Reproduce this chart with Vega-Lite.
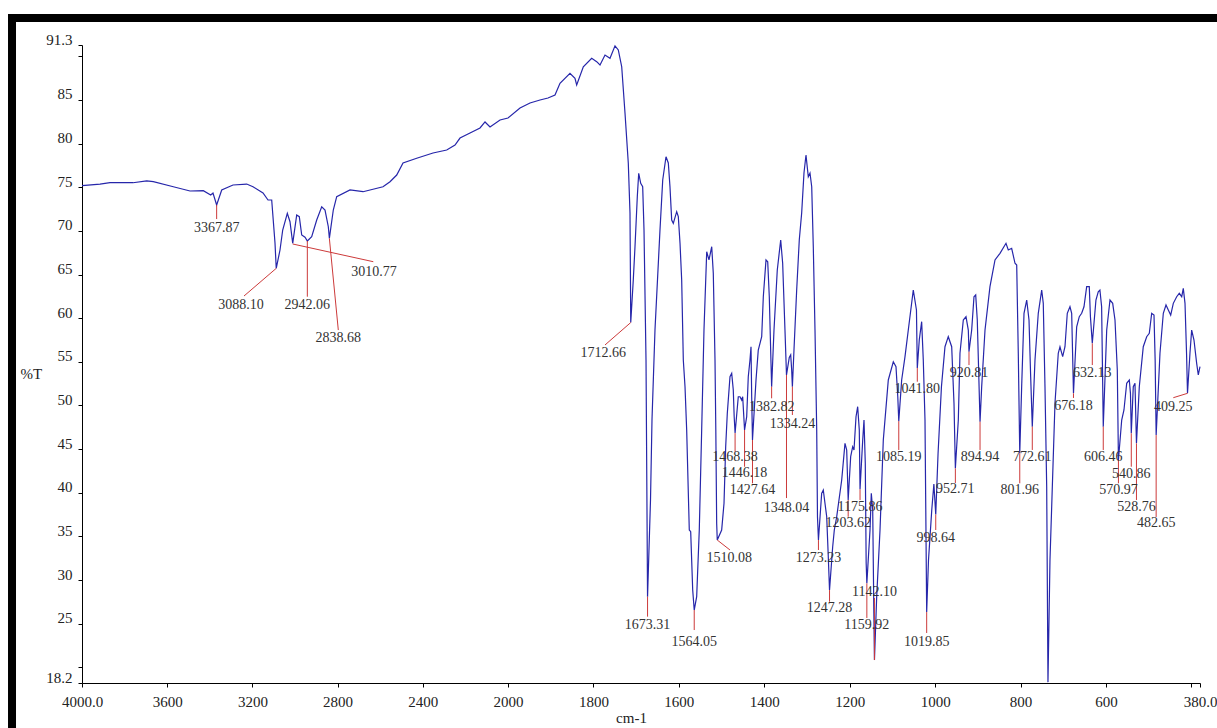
{
  "$schema": "https://vega.github.io/schema/vega-lite/v6.json",
  "width": 1118,
  "height": 638,
  "autosize": "none",
  "padding": {"left": 82, "top": 45, "right": 17, "bottom": 45},
  "background": "white",
  "config": {
    "view": {"stroke": null},
    "axis": {"grid": false, "domainColor": "#000", "tickColor": "#000", "tickSize": 4, "labelFont": "Liberation Serif", "labelFontSize": 15, "labelColor": "#222", "titleFont": "Liberation Serif", "titleFontSize": 15, "titleFontWeight": "normal", "titleColor": "#222", "labelOverlap": false, "labelFlush": false, "labelBound": false}
  },
  "datasets": {
    "frame": [
      {"fx": 4328.6, "fy": 94.39, "fx2": 4328.6, "fy2": 10.0},
      {"fx": 4328.6, "fy": 94.39, "fx2": 300, "fy2": 94.39}
    ],
    "spectrum": [
      {"wn":4000,"t":75.18},{"wn":3915.5,"t":75.37},{"wn":3868.5,"t":75.52},{"wn":3760.6,"t":75.52},{"wn":3696.2,"t":75.72},{"wn":3665.3,"t":75.64},{"wn":3571.3,"t":75.06},{"wn":3492.9,"t":74.57},{"wn":3430.5,"t":74.61},{"wn":3395.8,"t":74.11},{"wn":3385.0,"t":74.34},{"wn":3367.87,"t":72.97},{"wn":3344.1,"t":74.69},{"wn":3291.1,"t":75.26},{"wn":3226.8,"t":75.37},{"wn":3197.2,"t":75.06},{"wn":3150.2,"t":74.34},{"wn":3126.7,"t":73.54},{"wn":3109.4,"t":73.54},{"wn":3093.9,"t":68.61},{"wn":3088.1,"t":65.71},{"wn":3070.4,"t":67.81},{"wn":3057.7,"t":70.10},{"wn":3036.1,"t":72.02},{"wn":3023.5,"t":71.05},{"wn":3010.77,"t":68.58},{"wn":2992.0,"t":71.82},{"wn":2979.8,"t":71.63},{"wn":2968.5,"t":69.53},{"wn":2953.0,"t":69.27},{"wn":2942.06,"t":68.84},{"wn":2921.6,"t":69.34},{"wn":2898.1,"t":71.25},{"wn":2874.6,"t":72.77},{"wn":2859.1,"t":72.39},{"wn":2843.6,"t":70.48},{"wn":2838.68,"t":69.15},{"wn":2820.2,"t":72.39},{"wn":2804.2,"t":73.92},{"wn":2741.7,"t":74.69},{"wn":2680.7,"t":74.49},{"wn":2586.8,"t":75.06},{"wn":2553.9,"t":75.64},{"wn":2522.5,"t":76.40},{"wn":2492.9,"t":77.78},{"wn":2428.6,"t":78.32},{"wn":2352.1,"t":78.93},{"wn":2287.7,"t":79.27},{"wn":2248.8,"t":79.84},{"wn":2225.3,"t":80.64},{"wn":2178.3,"t":81.22},{"wn":2131.4,"t":81.79},{"wn":2107.9,"t":82.48},{"wn":2084.4,"t":81.9},{"wn":2037.5,"t":82.71},{"wn":2000,"t":82.94},{"wn":1971.9,"t":84.08},{"wn":1948.5,"t":84.65},{"wn":1925.1,"t":85.0},{"wn":1906.4,"t":85.23},{"wn":1890,"t":85.57},{"wn":1878.3,"t":86.91},{"wn":1854.9,"t":88.06},{"wn":1843.2,"t":87.48},{"wn":1839.2,"t":86.72},{"wn":1823.7,"t":88.81},{"wn":1804.1,"t":89.78},{"wn":1792.4,"t":89.39},{"wn":1784.6,"t":89.01},{"wn":1772.9,"t":90.15},{"wn":1761.2,"t":89.78},{"wn":1749.5,"t":91.2},{"wn":1741.8,"t":90.73},{"wn":1733.8,"t":88.81},{"wn":1726.1,"t":83.51},{"wn":1718.4,"t":77.78},{"wn":1714.4,"t":72.05},{"wn":1712.66,"t":59.5},{"wn":1706.7,"t":64.37},{"wn":1702.7,"t":68.19},{"wn":1697.3,"t":73.92},{"wn":1694.0,"t":76.60},{"wn":1689.3,"t":75.45},{"wn":1684.7,"t":75.06},{"wn":1681.6,"t":70.10},{"wn":1676.9,"t":55.21},{"wn":1673.31,"t":28.09},{"wn":1666.4,"t":39.17},{"wn":1662.9,"t":48.33},{"wn":1655.9,"t":58.64},{"wn":1644.2,"t":70.10},{"wn":1637.8,"t":75.83},{"wn":1630.1,"t":78.50},{"wn":1624.7,"t":77.78},{"wn":1620.8,"t":75.06},{"wn":1616.8,"t":71.25},{"wn":1613.0,"t":70.87},{"wn":1605.1,"t":72.20},{"wn":1601.3,"t":71.63},{"wn":1597.3,"t":68.58},{"wn":1593.4,"t":64.37},{"wn":1589.6,"t":55.21},{"wn":1585.6,"t":52.15},{"wn":1581.7,"t":47.19},{"wn":1575.6,"t":35.73},{"wn":1572.3,"t":35.54},{"wn":1567.6,"t":28.85},{"wn":1564.05,"t":26.56},{"wn":1558.3,"t":28.09},{"wn":1552.2,"t":35.73},{"wn":1546.6,"t":47.19},{"wn":1541.2,"t":58.64},{"wn":1534.8,"t":67.62},{"wn":1529.5,"t":66.67},{"wn":1523.1,"t":68.19},{"wn":1519.4,"t":65.14},{"wn":1515.4,"t":55.21},{"wn":1513.5,"t":47.19},{"wn":1511.5,"t":36.5},{"wn":1510.08,"t":34.58},{"wn":1499.8,"t":35.73},{"wn":1494.3,"t":38.79},{"wn":1490.4,"t":45.27},{"wn":1486.6,"t":49.10},{"wn":1480.3,"t":53.29},{"wn":1476.3,"t":53.68},{"wn":1472.6,"t":51.77},{"wn":1470.5,"t":48.71},{"wn":1468.38,"t":46.84},{"wn":1460.9,"t":51.0},{"wn":1456.9,"t":51.0},{"wn":1452.9,"t":50.62},{"wn":1450.6,"t":51.0},{"wn":1446.18,"t":47.19},{"wn":1441.2,"t":48.71},{"wn":1437.5,"t":53.29},{"wn":1433.5,"t":55.21},{"wn":1431.1,"t":56.73},{"wn":1429.5,"t":51.0},{"wn":1427.64,"t":46.04},{"wn":1419.4,"t":52.92},{"wn":1414.1,"t":56.35},{"wn":1406.1,"t":57.88},{"wn":1402.3,"t":62.46},{"wn":1396.0,"t":66.67},{"wn":1392.0,"t":66.47},{"wn":1388.3,"t":62.46},{"wn":1384.3,"t":54.86},{"wn":1382.82,"t":52.15},{"wn":1377.3,"t":58.64},{"wn":1369.6,"t":65.52},{"wn":1361.6,"t":68.96},{"wn":1357.0,"t":66.29},{"wn":1351.6,"t":58.64},{"wn":1348.04,"t":53.5},{"wn":1341.5,"t":55.5},{"wn":1338.2,"t":55.8},{"wn":1335.9,"t":54.06},{"wn":1334.24,"t":52.15},{"wn":1330.5,"t":56.35},{"wn":1324.2,"t":63.23},{"wn":1318.1,"t":68.96},{"wn":1312.5,"t":72.05},{"wn":1307.1,"t":76.63},{"wn":1302.4,"t":78.70},{"wn":1297.0,"t":76.21},{"wn":1293.0,"t":76.63},{"wn":1289.0,"t":75.06},{"wn":1285.3,"t":68.19},{"wn":1281.3,"t":58.64},{"wn":1277.3,"t":47.19},{"wn":1275.5,"t":37.25},{"wn":1273.23,"t":34.58},{"wn":1265.7,"t":39.93},{"wn":1261.9,"t":40.31},{"wn":1253.9,"t":37.25},{"wn":1250.2,"t":32.67},{"wn":1247.28,"t":28.85},{"wn":1239.9,"t":33.81},{"wn":1236.1,"t":35.73},{"wn":1230.5,"t":37.25},{"wn":1218.8,"t":41.46},{"wn":1211.1,"t":45.66},{"wn":1207.1,"t":44.90},{"wn":1203.62,"t":39.17},{"wn":1197.8,"t":44.13},{"wn":1193.1,"t":45.27},{"wn":1190.0,"t":44.90},{"wn":1185.3,"t":48.71},{"wn":1181.4,"t":49.86},{"wn":1177.6,"t":47.19},{"wn":1175.86,"t":40.4},{"wn":1169.6,"t":46.04},{"wn":1166.6,"t":48.33},{"wn":1163.6,"t":43.37},{"wn":1161.5,"t":31.91},{"wn":1159.92,"t":29.62},{"wn":1152.5,"t":35.73},{"wn":1149.5,"t":39.93},{"wn":1146.2,"t":38.02},{"wn":1143.5,"t":26.22},{"wn":1142.1,"t":20.83},{"wn":1136.9,"t":28.09},{"wn":1129.1,"t":35.73},{"wn":1121.4,"t":46.04},{"wn":1109.7,"t":52.92},{"wn":1098.0,"t":55.01},{"wn":1091.7,"t":54.44},{"wn":1087.5,"t":51.0},{"wn":1085.19,"t":48.2},{"wn":1078.4,"t":52.92},{"wn":1070.6,"t":55.59},{"wn":1062.9,"t":58.64},{"wn":1051.2,"t":63.23},{"wn":1043.8,"t":60.94},{"wn":1041.8,"t":54.3},{"wn":1037.2,"t":57.50},{"wn":1031.6,"t":59.60},{"wn":1027.8,"t":55.21},{"wn":1023.8,"t":48.33},{"wn":1019.85,"t":26.33},{"wn":1015.6,"t":32.29},{"wn":1008,"t":38},{"wn":1003,"t":41},{"wn":998.64,"t":37.5},{"wn":993.2,"t":44.52},{"wn":985.3,"t":52.15},{"wn":977.0,"t":56.73},{"wn":969.3,"t":57.88},{"wn":961.3,"t":56.73},{"wn":955.9,"t":50.25},{"wn":952.71,"t":42.8},{"wn":945.8,"t":48.33},{"wn":941.9,"t":55.98},{"wn":934.1,"t":59.79},{"wn":927.8,"t":60.17},{"wn":922.4,"t":58.64},{"wn":920.81,"t":56.16},{"wn":914.5,"t":58.64},{"wn":909.1,"t":62.46},{"wn":905.1,"t":62.66},{"wn":901.4,"t":59.79},{"wn":894.94,"t":48.14},{"wn":891.1,"t":52.15},{"wn":883.3,"t":58.64},{"wn":871.7,"t":63.61},{"wn":859.9,"t":66.67},{"wn":848.2,"t":67.43},{"wn":834.2,"t":68.58},{"wn":828.8,"t":67.81},{"wn":820.9,"t":68.01},{"wn":813.1,"t":66.29},{"wn":809.1,"t":66.09},{"wn":805.4,"t":55.98},{"wn":801.96,"t":44.52},{"wn":797.5,"t":52.15},{"wn":792.0,"t":60.56},{"wn":785.7,"t":62.08},{"wn":780.3,"t":59.79},{"wn":776.4,"t":53.29},{"wn":772.61,"t":47.57},{"wn":766.3,"t":55.21},{"wn":758.6,"t":60.56},{"wn":750.6,"t":63.23},{"wn":746.9,"t":61.70},{"wn":742.9,"t":52.15},{"wn":738.9,"t":40.69},{"wn":735.9,"t":18.3},{"wn":731.2,"t":32.29},{"wn":727.2,"t":38.40},{"wn":719.5,"t":50.25},{"wn":711.8,"t":55.98},{"wn":707.8,"t":56.73},{"wn":701.5,"t":55.59},{"wn":696.1,"t":56.73},{"wn":690.7,"t":60.56},{"wn":684.4,"t":61.31},{"wn":680.4,"t":60.56},{"wn":676.18,"t":51.39},{"wn":668.7,"t":59.02},{"wn":662.6,"t":60.17},{"wn":657.0,"t":60.56},{"wn":651.6,"t":61.31},{"wn":645.3,"t":63.61},{"wn":639.2,"t":63.61},{"wn":636.5,"t":60.17},{"wn":632.13,"t":57.12},{"wn":623.6,"t":62.08},{"wn":618.2,"t":63.03},{"wn":614.3,"t":63.23},{"wn":610.3,"t":61.31},{"wn":606.46,"t":47.57},{"wn":598.4,"t":58.64},{"wn":590.7,"t":62.08},{"wn":584.4,"t":61.70},{"wn":579.0,"t":59.79},{"wn":573.6,"t":54.06},{"wn":570.97,"t":43.75},{"wn":563.3,"t":48.33},{"wn":558.0,"t":49.48},{"wn":551.6,"t":52.54},{"wn":545.5,"t":52.92},{"wn":542.8,"t":51.39},{"wn":540.86,"t":46.81},{"wn":536.2,"t":52.15},{"wn":532.2,"t":52.54},{"wn":528.76,"t":45.66},{"wn":522.1,"t":52.15},{"wn":512.8,"t":56.73},{"wn":504.8,"t":57.88},{"wn":498.7,"t":58.27},{"wn":493.1,"t":60.56},{"wn":487.7,"t":60.36},{"wn":485.0,"t":55.21},{"wn":482.65,"t":46.61},{"wn":473.7,"t":55.98},{"wn":465.9,"t":60.56},{"wn":459.6,"t":61.51},{"wn":454.2,"t":60.94},{"wn":448.6,"t":60.36},{"wn":442.5,"t":61.70},{"wn":434.6,"t":62.46},{"wn":428.5,"t":62.85},{"wn":422.8,"t":62.46},{"wn":419.1,"t":63.42},{"wn":415.1,"t":61.70},{"wn":411.5,"t":55.98},{"wn":409.25,"t":51.39},{"wn":403.5,"t":55.98},{"wn":399.5,"t":58.64},{"wn":394.1,"t":57.50},{"wn":387.8,"t":54.83},{"wn":384.0,"t":53.49},{"wn":380,"t":54.44}
    ],
    "peaks": [
      {"label":"3367.87","pw":3367.87,"pt":72.97,"ew":3367.87,"et":71.36,"tw":3367.87,"tt":70.33},
      {"label":"3088.10","pw":3088.1,"pt":65.71,"ew":3239.4,"et":62.54,"tw":3253.5,"tt":61.51},
      {"label":"3010.77","pw":3010.77,"pt":68.5,"ew":2632.4,"et":66.47,"tw":2629.1,"tt":65.33},
      {"label":"2942.06","pw":2942.06,"pt":68.84,"ew":2942.06,"et":62.46,"tw":2942.06,"tt":61.51},
      {"label":"2838.68","pw":2838.68,"pt":69.15,"ew":2796.7,"et":58.64,"tw":2796.7,"tt":57.69},
      {"label":"1712.66","pw":1712.66,"pt":59.5,"ew":1772.9,"et":56.93,"tw":1776.9,"tt":55.98},
      {"label":"1673.31","pw":1673.31,"pt":28.09,"ew":1673.31,"et":25.8,"tw":1673.31,"tt":24.84},
      {"label":"1564.05","pw":1564.05,"pt":26.56,"ew":1564.05,"et":24.27,"tw":1564.05,"tt":22.93},
      {"label":"1510.08","pw":1510.08,"pt":34.58,"ew":1480.3,"et":33.44,"tw":1481.9,"tt":32.55},
      {"label":"1468.38","pw":1468.38,"pt":46.84,"ew":1468.38,"et":44.7,"tw":1468.38,"tt":44.13},
      {"label":"1446.18","pw":1446.18,"pt":47.19,"ew":1446.18,"et":42.98,"tw":1446.18,"tt":42.23},
      {"label":"1427.64","pw":1427.64,"pt":46.04,"ew":1427.64,"et":41.08,"tw":1427.64,"tt":40.31},
      {"label":"1382.82","pw":1382.82,"pt":52.15,"ew":1382.82,"et":50.82,"tw":1382.82,"tt":49.86},
      {"label":"1334.24","pw":1334.24,"pt":52.15,"ew":1334.24,"et":48.91,"tw":1334.24,"tt":47.87},
      {"label":"1348.04","pw":1348.04,"pt":53.5,"ew":1348.04,"et":39.39,"tw":1348.04,"tt":38.28},
      {"label":"1273.23","pw":1273.23,"pt":34.58,"ew":1273.23,"et":33.44,"tw":1273.23,"tt":32.49},
      {"label":"1247.28","pw":1247.28,"pt":28.85,"ew":1247.28,"et":27.51,"tw":1247.28,"tt":26.76},
      {"label":"1203.62","pw":1203.62,"pt":39.17,"ew":1203.62,"et":37.25,"tw":1203.62,"tt":36.5},
      {"label":"1175.86","pw":1175.86,"pt":40.4,"ew":1175.86,"et":39.17,"tw":1175.86,"tt":38.4},
      {"label":"1159.92","pw":1159.92,"pt":29.62,"ew":1159.92,"et":25.65,"tw":1159.92,"tt":24.84},
      {"label":"1142.10","pw":1142.1,"pt":20.83,"ew":1142.1,"et":27.94,"tw":1142.1,"tt":28.66},
      {"label":"1085.19","pw":1085.19,"pt":48.2,"ew":1085.19,"et":44.9,"tw":1085.19,"tt":44.13},
      {"label":"1041.80","pw":1041.8,"pt":54.3,"ew":1041.8,"et":52.72,"tw":1041.8,"tt":51.85},
      {"label":"1019.85","pw":1019.85,"pt":26.33,"ew":1019.85,"et":23.93,"tw":1019.85,"tt":22.93},
      {"label":"998.64","pw":998.64,"pt":37.5,"ew":998.64,"et":35.73,"tw":998.64,"tt":34.81},
      {"label":"952.71","pw":952.71,"pt":42.8,"ew":952.71,"et":41.11,"tw":952.71,"tt":40.39},
      {"label":"920.81","pw":920.81,"pt":56.16,"ew":920.81,"et":54.63,"tw":920.81,"tt":53.68},
      {"label":"894.94","pw":894.94,"pt":48.14,"ew":894.94,"et":44.9,"tw":894.94,"tt":44.06},
      {"label":"801.96","pw":801.96,"pt":44.52,"ew":801.96,"et":41.08,"tw":801.96,"tt":40.31},
      {"label":"772.61","pw":772.61,"pt":47.57,"ew":772.61,"et":44.9,"tw":772.61,"tt":44.06},
      {"label":"676.18","pw":676.18,"pt":51.39,"ew":676.18,"et":50.86,"tw":676.18,"tt":49.94},
      {"label":"632.13","pw":632.13,"pt":57.12,"ew":632.13,"et":54.63,"tw":632.13,"tt":53.68},
      {"label":"606.46","pw":606.46,"pt":47.57,"ew":606.46,"et":44.9,"tw":606.46,"tt":44.06},
      {"label":"570.97","pw":570.97,"pt":43.75,"ew":570.97,"et":41.08,"tw":570.97,"tt":40.31},
      {"label":"540.86","pw":540.86,"pt":46.81,"ew":540.86,"et":42.98,"tw":540.86,"tt":42.15},
      {"label":"528.76","pw":528.76,"pt":45.66,"ew":528.76,"et":39.17,"tw":528.76,"tt":38.4},
      {"label":"482.65","pw":482.65,"pt":46.61,"ew":482.65,"et":37.22,"tw":482.65,"tt":36.53},
      {"label":"409.25","pw":409.25,"pt":51.39,"ew":442.5,"et":50.89,"tw":442.5,"tt":49.86}
    ]
  },
  "layer": [
    {
      "data": {"name": "spectrum"},
      "mark": {"type": "line", "color": "#2626aa", "strokeWidth": 1.2},
      "encoding": {
        "x": {
          "field": "wn", "type": "quantitative",
          "scale": {"type": "linear", "domain": [4000, 2000, 380], "range": [0, 426, 1118], "nice": false, "zero": false},
          "axis": {
            "values": [4000, 3600, 3200, 2800, 2400, 2000, 1800, 1600, 1400, 1200, 1000, 800, 600, 400, 380],
            "tickCount": 40,
            "labelExpr": "datum.value == 4000 ? '4000.0' : datum.value == 380 ? '380.0' : datum.value == 400 ? '' : '' + datum.value",
            "labelPadding": 7, "labelOverlap": false,
            "title": "cm-1", "titleX": 549, "titleY": 39, "titleAlign": "center", "titleBaseline": "alphabetic"
          }
        },
        "y": {
          "field": "t", "type": "quantitative",
          "scale": {"type": "linear", "domain": [18.2, 91.3], "nice": false, "zero": false},
          "axis": {
            "values": [91.3, 90, 85, 80, 75, 70, 65, 60, 55, 50, 45, 40, 35, 30, 25, 20, 18.2],
            "tickCount": 40,
            "labelExpr": "datum.value == 90 || datum.value == 20 ? '' : '' + datum.value",
            "labelPadding": 6, "labelBaseline": "middle", "labelOffset": -6, "labelAlign": "right", "labelOverlap": false,
            "title": "%T", "titleAngle": 0, "titleX": -62, "titleY": 333, "titleAlign": "left", "titleBaseline": "alphabetic"
          }
        }
      }
    },
    {
      "data": {"name": "frame"},
      "mark": {"type": "rule", "color": "#000000", "strokeWidth": 8, "strokeCap": "square", "clip": false},
      "encoding": {
        "x": {"field": "fx", "type": "quantitative"},
        "y": {"field": "fy", "type": "quantitative"},
        "x2": {"field": "fx2"},
        "y2": {"field": "fy2"}
      }
    },
    {
      "data": {"name": "peaks"},
      "mark": {"type": "rule", "color": "#cc3a3a", "strokeWidth": 1},
      "encoding": {
        "x": {"field": "pw", "type": "quantitative"},
        "y": {"field": "pt", "type": "quantitative"},
        "x2": {"field": "ew"},
        "y2": {"field": "et"}
      }
    },
    {
      "data": {"name": "peaks"},
      "mark": {"type": "text", "font": "Liberation Serif", "fontSize": 14, "color": "#333333", "align": "center", "baseline": "middle"},
      "encoding": {
        "x": {"field": "tw", "type": "quantitative"},
        "y": {"field": "tt", "type": "quantitative"},
        "text": {"field": "label"}
      }
    }
  ]
}
